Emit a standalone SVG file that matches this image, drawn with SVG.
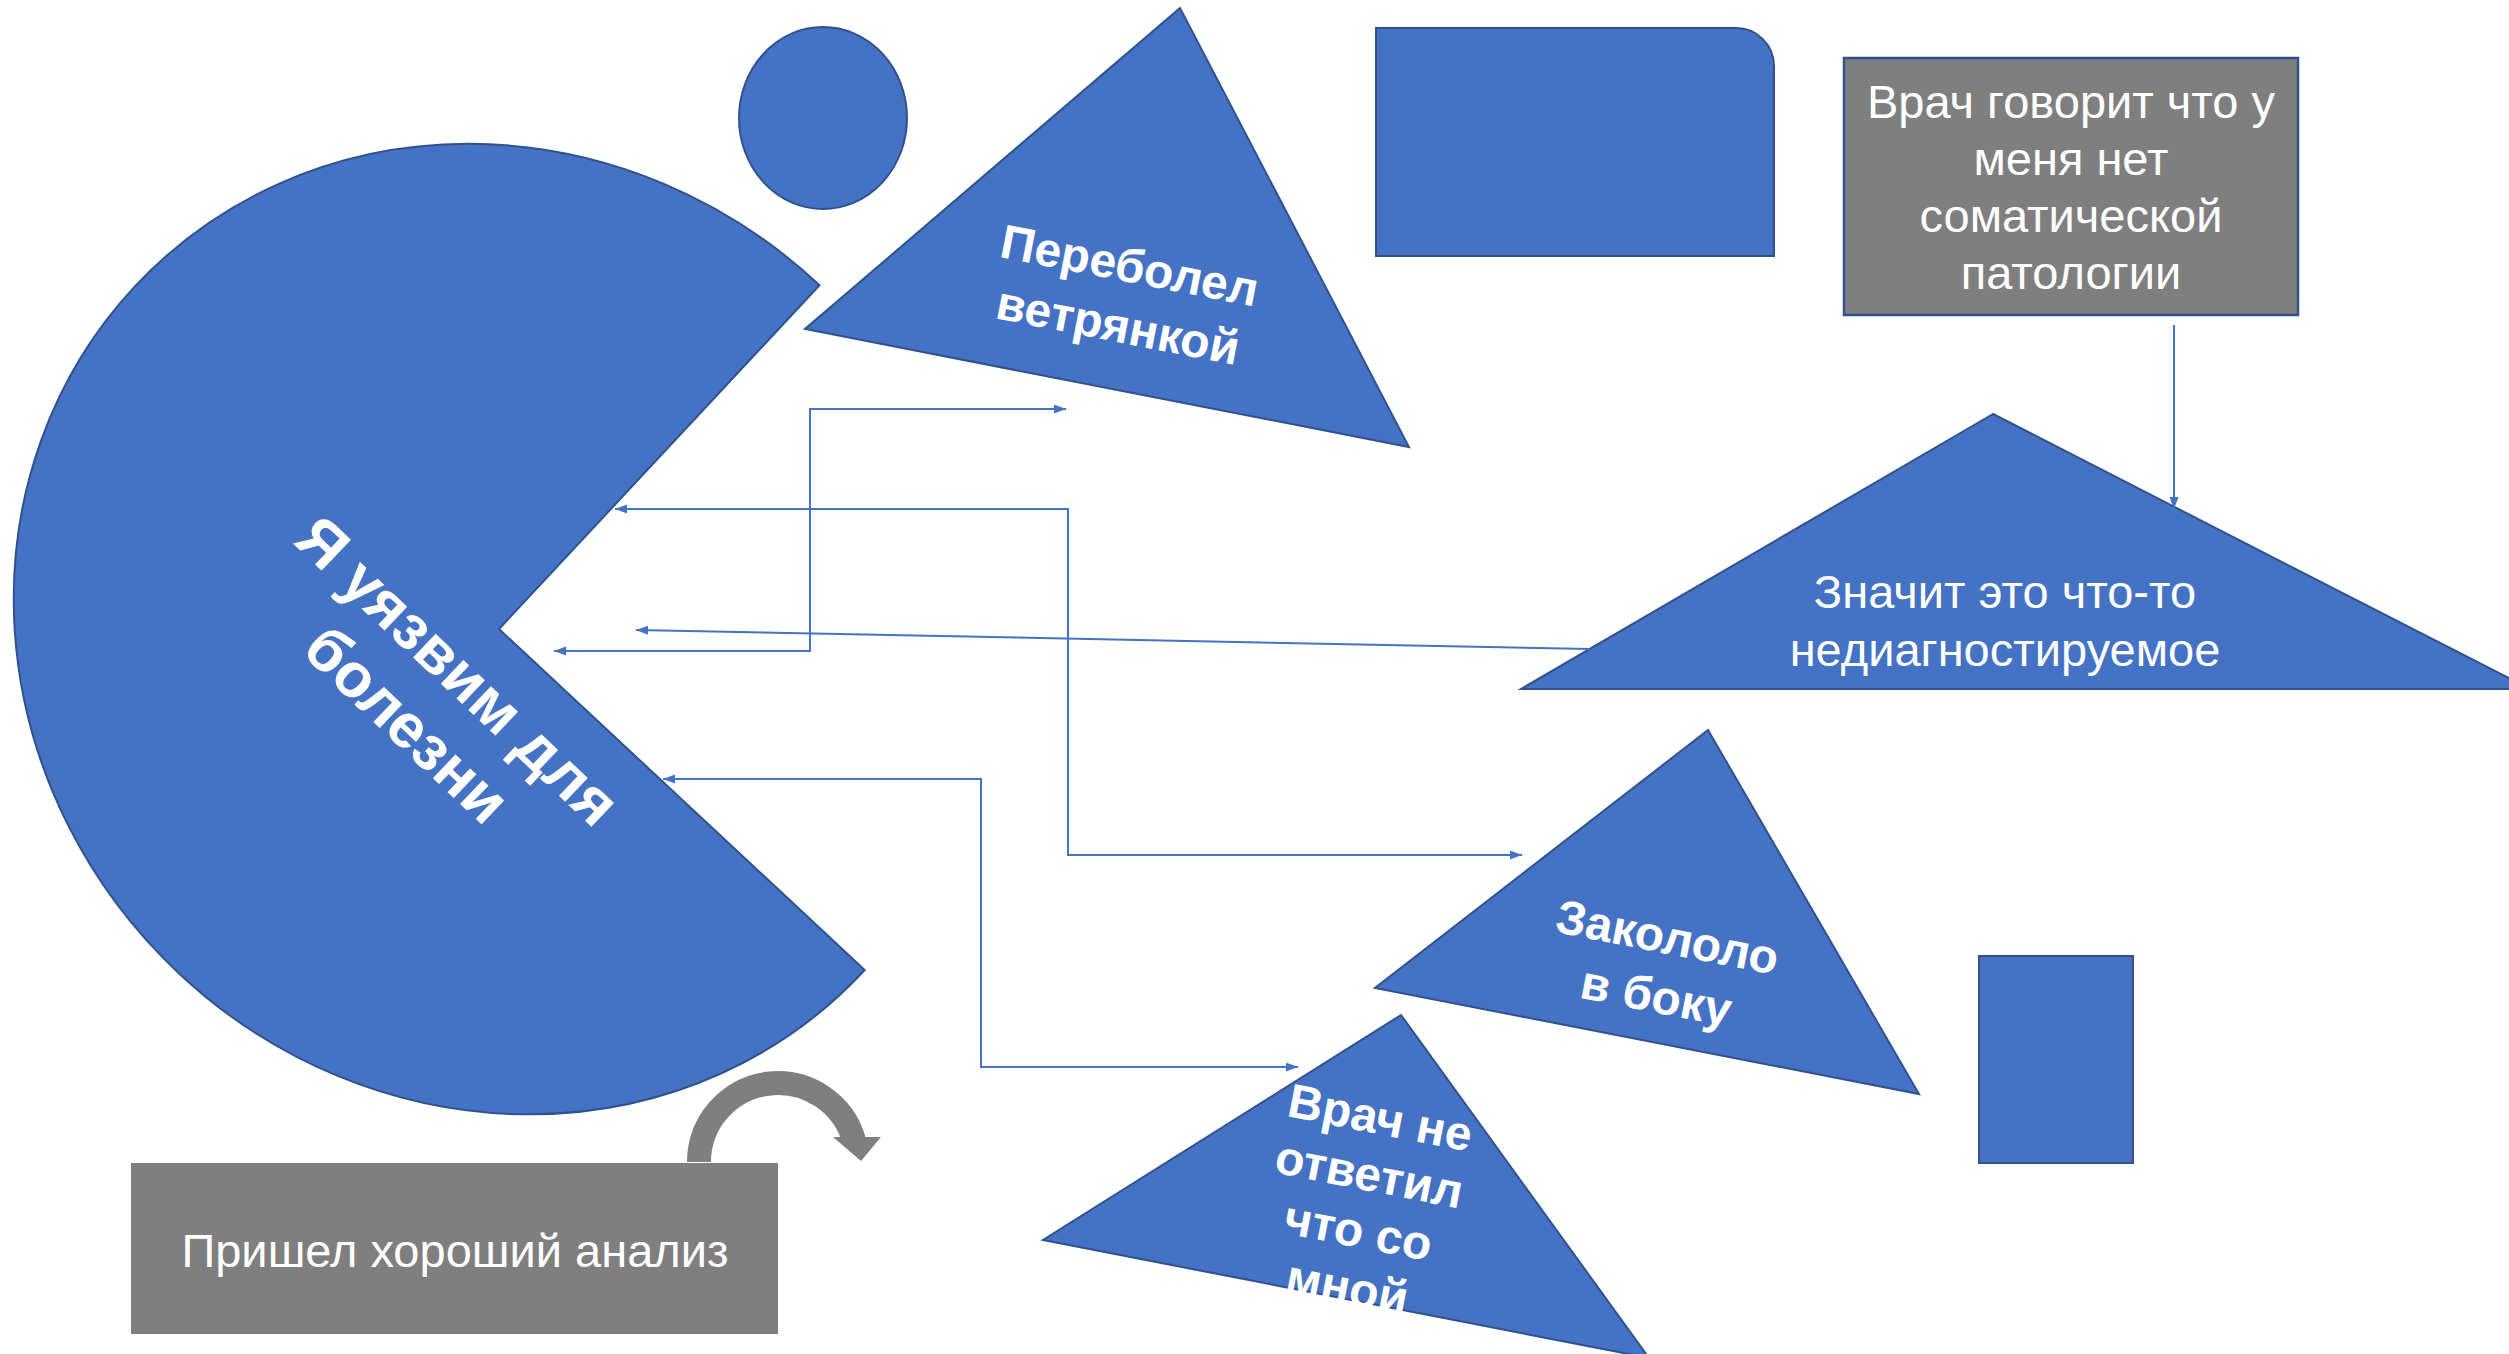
<svg xmlns="http://www.w3.org/2000/svg" width="2509" height="1354" viewBox="0 0 2509 1354">
  <style>
    .shape { fill: #4472c4; stroke: #2f528f; stroke-width: 2; }
    .gray { fill: #7f7f7f; }
    .conn { fill: none; stroke: #4472c4; stroke-width: 2; }
    .t { font-family: "Liberation Sans", Arial, sans-serif; fill: #ffffff; text-anchor: middle; }
    .reg { font-size: 47px; font-weight: normal; }
    .bold { font-size: 48px; font-weight: bold; }
    .big { font-size: 62px; font-weight: bold; }
  </style>
  <defs>
    <marker id="arr" markerUnits="userSpaceOnUse" markerWidth="13" markerHeight="10" refX="12" refY="4.5" orient="auto-start-reverse">
      <path d="M0,0 L12,4.5 L0,9 Z" fill="#4472c4"/>
    </marker>
  </defs>
  <rect width="2509" height="1354" fill="#ffffff"/>

  <g id="pacman">
    <path class="shape" d="M 499 629 L 819.5 285.3 A 500 470 45 1 0 864.7 970 Z"/>
    <g transform="translate(433,697) rotate(43.5)">
      <text class="t big" x="0" y="-15">Я уязвим для</text>
      <text class="t big" x="0" y="59">болезни</text>
    </g>
  </g>

  <g id="ellipse-top">
    <ellipse class="shape" cx="823" cy="118" rx="84" ry="91"/>
  </g>

  <g id="tri-perebolel">
    <polygon class="shape" points="1180,8 805,329 1409,447"/>
    <g transform="translate(1124,295) rotate(11)">
      <text class="t bold" x="0" y="-13.5">Переболел</text>
      <text class="t bold" x="0" y="47.5">ветрянкой</text>
    </g>
  </g>

  <g id="round-rect">
    <path class="shape" d="M1376,28 H1736 A38,38 0 0 1 1774,66 V256 H1376 Z"/>
  </g>

  <g id="box-doctor">
    <rect x="1844" y="58" width="454" height="257" fill="#7f7f7f" stroke="#2f528f" stroke-width="2.5"/>
    <text class="t reg" x="2071" y="118">Врач говорит что у</text>
    <text class="t reg" x="2071" y="175">меня нет</text>
    <text class="t reg" x="2071" y="232">соматической</text>
    <text class="t reg" x="2071" y="289">патологии</text>
  </g>

  <g id="tri-undiagnosed">
    <polygon class="shape" points="1993,414 1521,689 2530,689"/>
    <text class="t reg" x="2005" y="608">Значит это что-то</text>
    <text class="t reg" x="2005" y="666">недиагностируемое</text>
  </g>

  <g id="tri-side">
    <polygon class="shape" points="1708,730 1375,988 1919,1094"/>
    <g transform="translate(1662,966) rotate(11)">
      <text class="t bold" x="0" y="-13">Закололо</text>
      <text class="t bold" x="0" y="47">в боку</text>
    </g>
  </g>

  <g id="tri-doctor-no-answer">
    <polygon class="shape" points="1401,1015 1043,1240 1649,1358"/>
    <g transform="translate(1364,1202) rotate(11)">
      <text class="t bold" x="0" y="-69.4">Врач не</text>
      <text class="t bold" x="0" y="-11.8">ответил</text>
      <text class="t bold" x="0" y="45.8">что со</text>
      <text class="t bold" x="0" y="103.4">мной</text>
    </g>
  </g>

  <g id="small-rect">
    <rect class="shape" x="1979" y="956" width="154" height="207"/>
  </g>

  <g id="box-analysis">
    <rect class="gray" x="131" y="1163" width="647" height="171"/>
    <text class="t reg" x="455" y="1267">Пришел хороший анализ</text>
  </g>

  <g id="curved-arrow">
    <path d="M 699 1162 A 79 79 0 0 1 854.3 1141.6" fill="none" stroke="#7f7f7f" stroke-width="24"/>
    <polygon points="833,1137 881,1137 861,1161" fill="#7f7f7f"/>
  </g>

  <g id="connectors">
    <polyline class="conn" points="554,651 810,651 810,409 1066,409" marker-start="url(#arr)" marker-end="url(#arr)"/>
    <polyline class="conn" points="615,509 1068,509 1068,855 1522,855" marker-start="url(#arr)" marker-end="url(#arr)"/>
    <polyline class="conn" points="663,779 981,779 981,1067 1298,1067" marker-start="url(#arr)" marker-end="url(#arr)"/>
    <line class="conn" x1="1590" y1="649" x2="636" y2="630" marker-end="url(#arr)"/>
    <line class="conn" x1="2174" y1="325" x2="2174" y2="509" marker-end="url(#arr)"/>
  </g>
</svg>
